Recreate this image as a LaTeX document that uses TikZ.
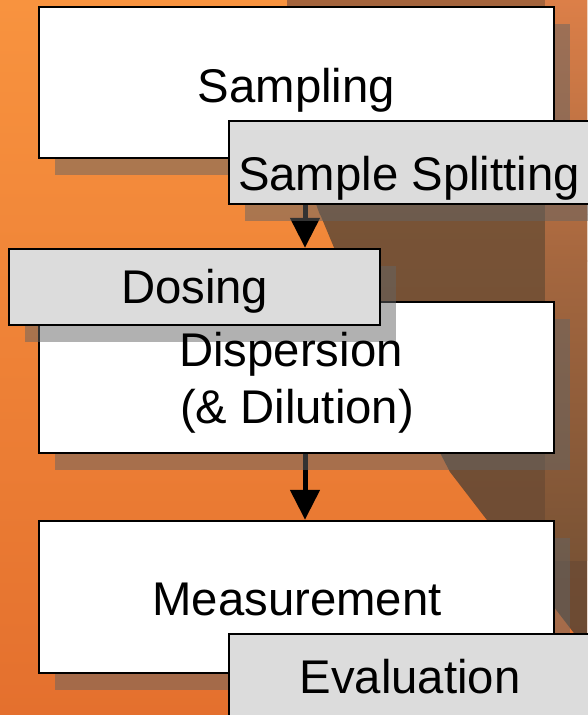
\documentclass[tikz,border=0pt]{standalone}
\usepackage{fontspec}
\setmainfont{Liberation Sans}
\usetikzlibrary{arrows.meta,shadows}
\definecolor{bgtop}{HTML}{F8933F}
\definecolor{bgbot}{HTML}{E4702E}
\definecolor{brtop}{HTML}{A4643D}
\definecolor{brmid}{HTML}{785336}
\definecolor{brbot}{HTML}{6C4A33}
\definecolor{rstop}{HTML}{DC7F48}
\definecolor{rsmid}{HTML}{A5673F}
\definecolor{rsbot}{HTML}{7A5335}
\definecolor{shadowgray}{RGB}{100,100,100}
\definecolor{tagfill}{HTML}{DCDCDC}
\pgfdeclarelayer{bglayer}
\pgfdeclarelayer{arrowlayer}
\pgfsetlayers{bglayer,arrowlayer,main}
\begin{document}
\begin{tikzpicture}[x=1pt,y=-1pt,
  boxshadow/.style={drop shadow={shadow xshift=16pt,shadow yshift=-17pt,fill=shadowgray,opacity=0.5}},
  stagebox/.style={rectangle,draw=black,line width=2.5pt,fill=white,inner sep=0pt,boxshadow},
  tagbox/.style={rectangle,draw=black,line width=2.5pt,fill=tagfill,inner sep=0pt,boxshadow},
  lbl/.style={inner sep=0pt,anchor=base,font=\fontsize{47.3pt}{56.7pt}\selectfont},
  flow/.style={draw=black,line width=5pt,-{Triangle[width=29pt,length=30pt]}}]
\useasboundingbox (0,0) rectangle (587,715);
\begin{pgfonlayer}{bglayer}
  \shade[top color=bgtop,bottom color=bgbot] (0,0) rectangle (587,715);
  % brown object, upper part
  \shade[top color=brtop,bottom color=brmid]
    (287,0) .. controls (295,120) and (303,170) .. (320,215) -- (587,215) -- (587,0) -- cycle;
  % brown object, lower part
  \shade[top color=brmid,bottom color=brbot]
    (320,214) -- (335,250) -- (450,472) -- (587,650) -- (587,214) -- cycle;
  % lighter right strip
  \shade[top color=rstop,bottom color=rsmid] (545,0) rectangle (587,261);
  \shade[top color=rsmid,bottom color=rsbot] (545,260) rectangle (587,560);
\end{pgfonlayer}

% boxes
\node[stagebox,minimum width=515pt,minimum height=151pt] (samp) at (296.5,82.5) {};
\node[tagbox,minimum width=362pt,minimum height=83pt] (split) at (410,162.5) {};
\node[stagebox,minimum width=515pt,minimum height=151pt] (disp) at (296.5,377.5) {};
\node[tagbox,minimum width=371pt,minimum height=76pt] (dos) at (194.5,287) {};
\node[stagebox,minimum width=515pt,minimum height=152pt] (meas) at (296.5,597) {};
\node[tagbox,minimum width=362pt,minimum height=83pt] (eval) at (410,675.5) {};

% labels
\node[lbl] (tsamp) at (296.5,102) {Sampling};
\node[lbl] (tsplit) at (409,190) {Sample Splitting};
\node[lbl] (tdos) at (194.7,303) {Dosing};
\node[lbl] (tdisp) at (291,366.7) {Dispersion};
\node[lbl] (tdil) at (297,423.3) {(\& Dilution)};
\node[lbl] (tmeas) at (297,615) {Measurement};
\node[lbl] (teval) at (410,693.3) {Evaluation};

% connectors
\coordinate (ax) at (305,0);
\begin{pgfonlayer}{arrowlayer}
  \draw[flow] (ax |- split.south) -- (ax |- dos.north);
  \draw[flow] (ax |- disp.south) -- (ax |- meas.north);
\end{pgfonlayer}
\end{tikzpicture}
\end{document}
